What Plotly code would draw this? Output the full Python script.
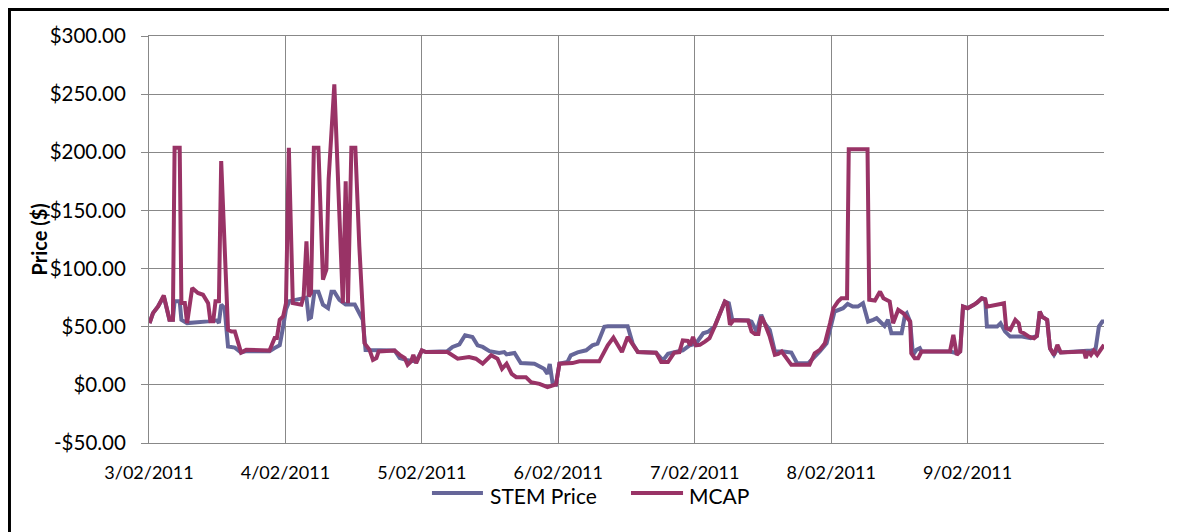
import pandas as pd
import plotly.graph_objects as go

# ---- data (hours since 3/02/2011 00:00, price in $) ----
stem_hours = [0.1, 0.7, 1.6, 2.6, 3.6, 4.2, 4.5, 5.4, 5.7, 6.3, 6.7, 10.4, 12.0, 12.3, 12.7, 13.3, 13.9, 15.1, 16.2, 17.1,
              21.2, 22.1, 23.0, 23.6, 24.1, 24.7, 27.7, 28.1, 28.5, 29.1, 29.8, 30.6, 31.5, 32.1, 32.6, 33.5, 34.6, 36.2,
              37.0, 37.6, 38.1, 39.4, 40.5, 43.2, 44.1, 45.2, 47.0, 48.0,
              48.7, 52.5, 53.4, 54.6, 55.6, 56.9, 57.8, 58.7, 59.9, 61.6, 62.5, 62.9, 64.3, 65.4, 67.8, 69.5, 70.1, 70.5,
              71.0, 71.6, 72.2, 73.6, 74.2, 75.4, 76.9, 78.0, 78.9, 80.1, 80.7, 84.2, 85.1, 86.0, 89.2, 90.4, 91.3, 92.4,
              93.9, 95.1, 96.2,
              97.5, 98.4, 99.5, 100.4, 101.3, 102.0, 102.6, 105.4, 106.0, 106.9, 107.7, 108.3, 109.2, 110.1, 111.6, 113.0,
              114.0, 116.0, 116.9, 118.0, 119.2, 119.8, 120.6, 122.1, 122.9, 123.8, 124.7, 125.6, 126.5, 127.4, 128.0,
              129.4, 130.0, 130.6, 132.4, 133.0, 133.3, 133.9, 134.4, 135.0, 135.6, 135.9, 140.9,
              142.1, 142.7, 143.2, 144.0, 145.1, 145.7, 146.5, 147.1, 147.4, 149.2, 149.8, 150.6, 151.5, 153.6, 155.1,
              156.2, 156.7, 157.1, 158.0, 158.5, 159.2, 159.8, 160.4, 164.5, 165.7, 166.5, 167.1, 167.7, 168.0]
stem_price = [53.1, 61.7, 67.5, 76.0, 56.0, 56.0, 71.8, 71.8, 56.0, 54.0, 53.1, 54.6, 55.5, 53.1, 69.0, 66.0, 33.0, 32.0, 27.8, 29.0,
              29.0, 31.6, 34.0, 50.0, 65.0, 72.0, 75.0, 57.0, 58.0, 80.0, 80.0, 69.0, 66.0, 80.0, 80.0, 73.0, 69.0, 69.0,
              62.0, 56.0, 30.0, 30.0, 29.6, 29.6, 23.0, 21.5, 20.1, 29.6,
              28.2, 29.0, 32.6, 34.9, 42.7, 41.2, 34.0, 32.6, 29.0, 27.4, 28.2, 26.2, 27.4, 18.7, 18.2, 13.8, 9.5, 18.0,
              1.4, 0.3, 18.2, 19.6, 25.4, 28.0, 29.7, 34.0, 35.4, 49.9, 50.4, 50.4, 35.4, 28.2, 27.7, 21.0, 26.8, 28.2,
              29.7, 34.0, 35.4,
              44.4, 45.8, 50.1, 60.2, 71.6, 70.2, 56.0, 55.3, 54.4, 45.8, 60.2, 53.0, 47.3, 28.7, 28.7, 27.8,
              18.6, 18.6, 22.9, 28.7, 35.8, 47.3, 63.0, 65.9, 69.6, 67.3, 67.3, 70.2, 54.4, 55.9, 57.3,
              50.7, 55.9, 44.4, 44.4, 60.2, 61.6, 54.4, 25.8, 30.1, 31.5, 28.7, 28.7,
              27.2, 28.7, 67.3, 65.9, 68.8, 70.8, 74.5, 73.6, 50.1, 50.1, 53.0, 45.8, 41.5, 41.5, 40.1,
              42.1, 63.0, 58.7, 55.9, 31.5, 25.8, 31.0, 27.8, 28.7, 29.5, 30.1, 50.1, 54.4, 54.4]

mcap_hours = [0.1, 0.7, 1.6, 2.6, 3.6, 4.2, 4.5, 5.4, 5.7, 6.3, 6.7, 7.2, 7.6, 8.6, 9.5, 10.4, 10.8, 11.3, 11.7, 12.3,
              12.7, 13.9, 14.5, 15.1, 16.2, 17.1, 21.2, 22.1, 22.5, 23.0, 23.6, 24.1, 24.6, 25.3, 26.8, 27.2, 27.7, 28.1,
              28.5, 29.0, 29.8, 30.6, 31.2, 31.6, 32.6, 34.1, 34.6, 35.0, 35.6, 36.3, 37.0, 37.9, 38.8, 39.4, 40.0, 40.4,
              43.2, 44.1, 45.0, 45.5, 46.1, 46.5, 47.0, 48.0,
              48.7, 52.5, 53.4, 54.3, 56.3, 57.5, 58.7, 60.2, 61.3, 62.1, 62.9, 63.8, 64.6, 66.3, 67.2, 68.7, 70.1, 71.0,
              71.6, 72.2, 74.5, 75.7, 79.2, 80.7, 81.7, 83.2, 84.2, 86.0, 89.2, 90.1, 91.3, 92.4, 93.3, 93.9, 94.8, 95.2,
              95.7, 96.2,
              96.9, 97.8, 98.6, 99.5, 100.4, 101.3, 101.7, 102.2, 102.8, 105.4, 106.0, 106.6, 107.2, 107.7, 108.3, 109.2,
              110.1, 110.7, 111.3, 112.1, 113.0, 116.2, 117.1, 118.0, 118.9, 119.8, 120.4, 121.2, 121.8, 122.8, 123.1,
              126.4, 126.7, 127.7, 128.6, 129.2, 130.3, 130.9, 131.8, 132.7, 133.9, 134.1, 134.7, 135.3, 135.9, 140.9,
              141.5, 142.1, 142.7, 143.2, 144.0, 145.1, 145.7, 146.5, 147.1, 147.4, 148.3, 148.9, 149.8, 150.4, 150.8,
              151.5, 152.4, 153.0, 153.3, 153.9, 154.8, 155.7, 156.2, 156.7, 157.1, 158.0, 158.5, 159.2, 159.8, 160.4,
              164.5, 164.8, 165.2, 165.7, 166.2, 166.8, 167.4, 168.0]
mcap_price = [53.1, 61.7, 67.5, 76.9, 56.0, 56.0, 203.8, 203.8, 70.3, 70.3, 53.1, 73.2, 83.3, 79.0, 77.5, 70.3, 54.6, 54.6, 71.8, 71.8,
              192.4, 47.4, 45.9, 45.9, 27.8, 30.1, 29.6, 40.2, 40.2, 56.0, 58.9, 70.3, 203.8, 70.3, 68.9, 76.0, 123.5, 76.0,
              79.0, 203.8, 203.8, 90.4, 99.1, 176.6, 258.4, 70.3, 175.1, 70.3, 203.8, 203.8, 119.1, 35.9, 30.1, 21.5, 23.0, 28.7,
              29.6, 25.8, 23.0, 17.2, 20.1, 25.8, 18.7, 29.6,
              28.2, 28.2, 25.4, 22.5, 23.9, 22.5, 18.2, 25.4, 22.5, 13.8, 18.2, 9.5, 6.6, 6.6, 2.3, 0.9, -2.0, -0.6,
              0.3, 18.2, 18.7, 20.2, 20.2, 34.0, 40.6, 28.2, 41.2, 28.2, 27.7, 19.6, 19.6, 27.7, 28.2, 38.3, 37.8, 34.0,
              41.2, 34.0,
              34.4, 37.2, 40.1, 50.1, 60.2, 71.6, 70.2, 51.6, 55.3, 55.3, 45.8, 43.8, 43.8, 58.7, 53.0, 41.5,
              25.8, 26.6, 28.7, 22.9, 17.2, 17.2, 27.2, 30.1, 35.8, 53.0, 65.9, 71.6, 74.5, 74.5, 202.6,
              202.6, 73.1, 72.5, 80.2, 74.5, 71.6, 53.0, 64.5, 61.6, 54.4, 27.2, 22.9, 22.9, 28.7, 28.7,
              43.0, 25.8, 28.7, 67.3, 65.9, 68.8, 70.8, 74.5, 73.6, 67.3, 67.9, 68.8, 69.6, 70.2, 48.7,
              47.3, 55.9, 53.0, 45.8, 44.4, 41.5, 40.1, 42.1, 63.0, 58.7, 55.9, 31.5, 25.8, 34.4, 27.8,
              28.7, 22.9, 28.7, 25.8, 29.5, 25.8, 30.1, 34.4]

series_names = ["STEM Price", "MCAP"]
series_colors = ["#666699", "#993366"]
day_labels = ["3/02/2011", "4/02/2011", "5/02/2011", "6/02/2011", "7/02/2011", "8/02/2011", "9/02/2011"]
y_ticks = [-50, 0, 50, 100, 150, 200, 250, 300]
y_labels = ["-$50.00", "$0.00", "$50.00", "$100.00", "$150.00", "$200.00", "$250.00", "$300.00"]

start = pd.Timestamp("2011-02-03")
to_dt = lambda hrs: [start + pd.Timedelta(hours=h) for h in hrs]
day_ticks = [start + pd.Timedelta(days=i) for i in range(len(day_labels))]
x_range = [start, start + pd.Timedelta(days=7)]
half_day_ticks = [start + pd.Timedelta(hours=12 * i) for i in range(15)]

FONT = "Lato"
GRID = "#888888"

fig = go.Figure()
fig.add_trace(go.Scatter(x=to_dt(stem_hours), y=stem_price, mode="lines", name=series_names[0],
                         line=dict(color=series_colors[0], width=4), showlegend=False))
fig.add_trace(go.Scatter(x=to_dt(mcap_hours), y=mcap_price, mode="lines", name=series_names[1],
                         line=dict(color=series_colors[1], width=4), showlegend=False))

# legend drawn as line samples + labels (paper coords relative to the plot area)
legend_line_x = [(0.2963, 0.3497), (0.5047, 0.5592)]
legend_text_x = [0.3550, 0.5634]
legend_y_line = -0.1229
legend_y_text = -0.1278

shapes = [
    dict(type="line", xref="paper", yref="paper", x0=-0.1461, x1=-0.1461, y0=-0.2187, y1=1.0688,
         line=dict(color="black", width=3)),
    dict(type="line", xref="paper", yref="paper", x0=-0.1476, x1=1.0764, y0=1.0651, y1=1.0651,
         line=dict(color="black", width=3)),
]
annotations = [dict(text="<b>Price ($)</b>", xref="paper", yref="paper", x=-0.1162, y=0.5,
                    xanchor="center", yanchor="middle", textangle=-90, showarrow=False,
                    font=dict(size=20, family=FONT, color="black"))]
for name, color, (lx0, lx1), tx in zip(series_names, series_colors, legend_line_x, legend_text_x):
    shapes.append(dict(type="line", xref="paper", yref="paper", x0=lx0, x1=lx1, y0=legend_y_line,
                       y1=legend_y_line, line=dict(color=color, width=4)))
    annotations.append(dict(text=name, xref="paper", yref="paper", x=tx, y=legend_y_text, xanchor="left",
                            yanchor="middle", showarrow=False, font=dict(size=21, family=FONT, color="black")))

fig.update_layout(
    width=1169, height=524,
    margin=dict(l=141, r=73, t=28, b=89),
    paper_bgcolor="white", plot_bgcolor="white",
    font=dict(family=FONT, color="black"),
    showlegend=False,
    xaxis=dict(type="date", range=x_range, tickvals=day_ticks, ticktext=day_labels,
               showgrid=True, gridcolor=GRID, gridwidth=1, ticks="", showline=True, mirror=True,
               linecolor=GRID, linewidth=1, tickfont=dict(size=18, family=FONT),
               ticklabelstandoff=13, zeroline=False),
    xaxis2=dict(type="date", range=x_range, overlaying="x", anchor="free", position=50 / 350,
                tickvals=half_day_ticks, showticklabels=False, ticks="outside", ticklen=5,
                tickcolor=GRID, showline=True, linecolor=GRID, linewidth=1, showgrid=False, zeroline=False),
    yaxis=dict(range=[-50, 300], tickvals=y_ticks, ticktext=y_labels, showgrid=True, gridcolor=GRID,
               gridwidth=1, zeroline=False, showline=True, linecolor=GRID, linewidth=1,
               ticks="outside", ticklen=7, tickcolor=GRID, tickfont=dict(size=20.5, family=FONT),
               ticklabelstandoff=11),
    annotations=annotations,
    shapes=shapes,
)

fig.write_html("out.html")
